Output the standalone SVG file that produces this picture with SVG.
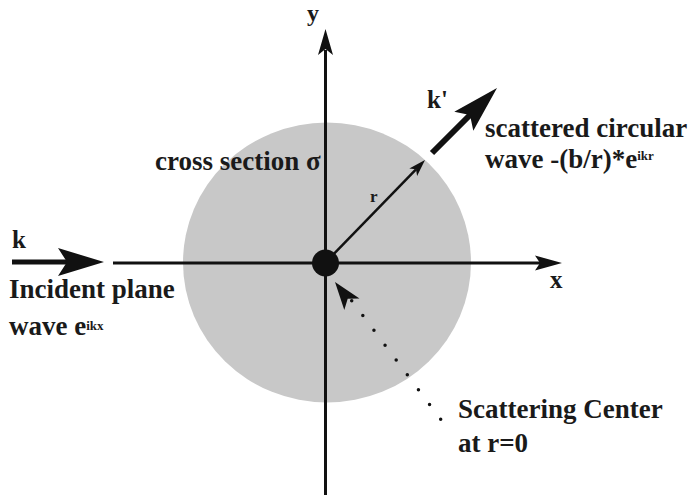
<svg xmlns="http://www.w3.org/2000/svg" width="690" height="495" viewBox="0 0 690 495">
  <style>
    .t { font-family: "Liberation Serif", "Times New Roman", serif; font-weight: bold; fill: #1a1a1a; }
    .big { font-size: 27px; }
    .ax { font-size: 25px; }
    .sup { font-size: 13px; }
    .ln { stroke: #111; fill: none; }
    .hd { fill: #111; stroke: none; }
  </style>
  <rect width="690" height="495" fill="#ffffff"/>
  <g id="cross-section">
    <ellipse cx="327" cy="262.5" rx="144" ry="140" fill="#c8c8c8"/>
  </g>
  <g id="connectors">
    <!-- y axis -->
    <line class="ln" x1="325.5" y1="495" x2="325.5" y2="50" stroke-width="3"/>
    <path class="hd" d="M325.5,29 L333,55 L325.5,49 L318,55 Z"/>
    <!-- x axis -->
    <line class="ln" x1="113" y1="263" x2="541" y2="263" stroke-width="3"/>
    <path class="hd" d="M562,263 L535,255.5 L540,263 L535,270.5 Z"/>
    <!-- incident k -->
    <line class="ln" x1="12" y1="262" x2="70" y2="262" stroke-width="5"/>
    <path class="hd" d="M104,262 L58,248 L67,262 L58,276 Z"/>
    <!-- r vector -->
    <line class="ln" x1="325" y1="263" x2="416" y2="169.3" stroke-width="2.5"/>
    <path class="hd" d="M425,160 L417.1,176 L416,169.3 L409.3,168.4 Z"/>
    <!-- scattered k' -->
    <line class="ln" x1="432" y1="153" x2="472" y2="113" stroke-width="6"/>
    <path class="hd" d="M497,88 L473.3,130.7 L470,115 L454.3,111.7 Z"/>
    <!-- dotted pointer to scattering center -->
    <line class="ln" x1="351.7" y1="300.7" x2="440.7" y2="419.3" stroke-width="3.5" stroke-linecap="round" stroke-dasharray="0 18.53"/>
    <path class="hd" d="M335,282 L359.5,298.6 L347.7,298.8 L344.3,310 Z"/>
  </g>
  <g id="scattering-center">
    <circle cx="325.5" cy="263" r="13.5" fill="#111"/>
  </g>
  <g id="labels">
    <text class="t" x="307" y="21" font-size="24">y</text>
    <text class="t ax" x="550" y="288">x</text>
    <text class="t ax" x="12" y="248">k</text>
    <text class="t big" x="9" y="298">Incident plane</text>
    <text class="t big" x="9" y="335">wave e<tspan class="sup" dy="-5">ikx</tspan></text>
    <text class="t big" x="155" y="170">cross section σ</text>
    <text class="t" x="370" y="202" font-size="17">r</text>
    <text class="t ax" x="427" y="108">k'</text>
    <text class="t big" x="485" y="137">scattered circular</text>
    <text class="t big" x="485" y="168">wave -(b/r)*e<tspan class="sup" font-size="16" dy="-8">ikr</tspan></text>
    <text class="t big" x="458" y="418">Scattering Center</text>
    <text class="t big" x="458" y="452">at r=0</text>
  </g>
</svg>
